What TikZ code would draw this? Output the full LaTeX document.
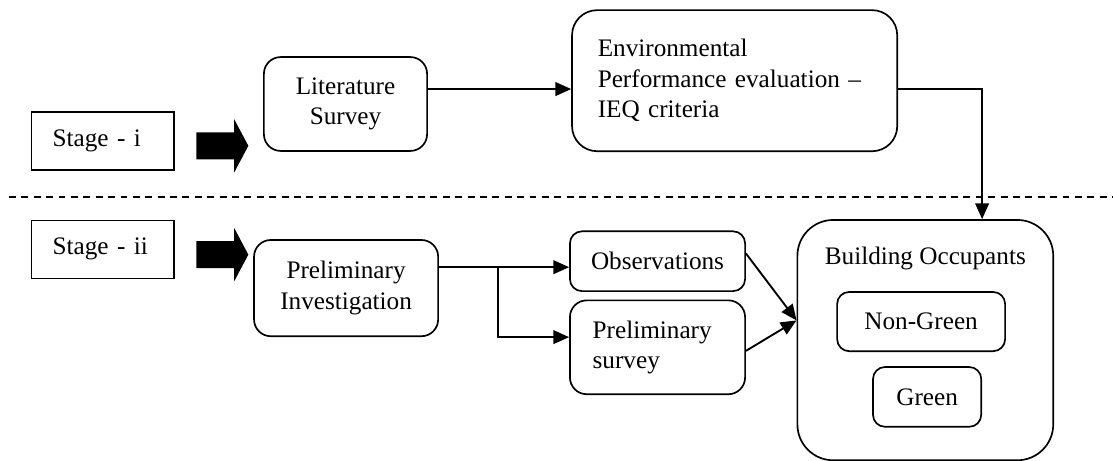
\documentclass[tikz,border=0pt,12pt]{standalone}
\usepackage{fontspec}
\setmainfont{Liberation Serif}
\usepackage{tikz}
\usetikzlibrary{positioning,arrows.meta,shapes,calc}
\usepackage{xcolor}
\definecolor{flowblack}{HTML}{000000}

\begin{document}
\begin{tikzpicture}[
      font=\fontsize{12}{14.5}\selectfont,
      stagebox/.style={draw=flowblack,line width=0.6pt,text width=1.68cm,inner xsep=0.35cm,
                       minimum height=0.97cm,align=left},
      step box/.style={draw=flowblack,line width=0.8pt,align=center},
      bigarr/.style={single arrow,fill=flowblack,inner xsep=0pt,inner ysep=0.2175cm,
                     minimum height=0.87cm,single arrow head extend=0.22cm,
                     single arrow tip angle=124,single arrow head indent=0pt},
      arr/.style={-{Triangle[length=7.5pt,width=6.5pt]},line width=0.9pt,flowblack}]
    \useasboundingbox (0,0) rectangle (18.62,7.71);
    % stage i
    \node[stagebox] (st1) at (1.72,5.35) {Stage - i};
    \node[bigarr]   (ba1) at (3.66,5.27) {};
    \node[step box,rounded corners=0.28cm,minimum width=2.73cm,minimum height=1.57cm]
         (lit) at (5.78,5.97) {Literature\\Survey};
    \node[step box,rounded corners=0.42cm,minimum width=5.44cm,minimum height=2.36cm,
          text width=4.58cm,inner xsep=0.43cm,align=left]
         (env) at (12.29,6.36) {Environmental\\Performance evaluation –\\IEQ criteria};
    % separator
    \draw[flowblack,line width=0.9pt,dash pattern=on 3.3pt off 2.6pt] (0.15,4.41) -- (18.62,4.41);
    % stage ii
    \node[stagebox] (st2) at (1.72,3.54) {Stage - ii};
    \node[bigarr]   (ba2) at (3.66,3.45) {};
    \node[step box,rounded corners=0.28cm,minimum width=3.08cm,minimum height=1.61cm]
         (pinv) at (5.79,2.89) {Preliminary\\Investigation};
    \node[step box,rounded corners=0.2cm,minimum width=2.93cm,minimum height=1.0cm]
         (obs) at (11.00,3.34) {Observations};
    \node[step box,rounded corners=0.28cm,minimum width=2.93cm,minimum height=1.57cm,
          text width=2.17cm,inner xsep=0.38cm,align=left]
         (psur) at (11.00,1.90) {Preliminary\\survey};
    \node[step box,rounded corners=0.6cm,minimum width=4.28cm,minimum height=4.02cm]
         (occ) at (15.48,2.02) {};
    \node[anchor=center] (occtitle) at ([yshift=-0.65cm]occ.north) {Building Occupants};
    \node[step box,rounded corners=0.2cm,minimum width=2.81cm,minimum height=0.99cm]
         (ngreen) at (15.41,2.33) {Non-Green};
    \node[step box,rounded corners=0.2cm,minimum width=1.81cm,minimum height=1.0cm]
         (green) at (15.51,1.07) {Green};
    % connectors
    \coordinate (split) at ([xshift=0.99cm,yshift=0.35cm]pinv.east);
    \coordinate (meet)  at ([yshift=0.33cm]occ.west);
    \draw[arr] ([yshift=0.25cm]lit.east) -- ([yshift=0.25cm]lit.east -| env.west);
    \draw[arr] ([yshift=-0.14cm]env.east) -| ([xshift=0.95cm]occ.north);
    \draw[arr] ([yshift=0.35cm]pinv.east) -- ([yshift=0.35cm]pinv.east -| obs.west);
    \draw[arr] (split) |- ([yshift=0.17cm]psur.west);
    \draw[arr] ([yshift=0.13cm]obs.east) -- (meet);
    \draw[arr] ([yshift=-0.06cm]psur.east) -- (meet);
  \end{tikzpicture}
\end{document}
